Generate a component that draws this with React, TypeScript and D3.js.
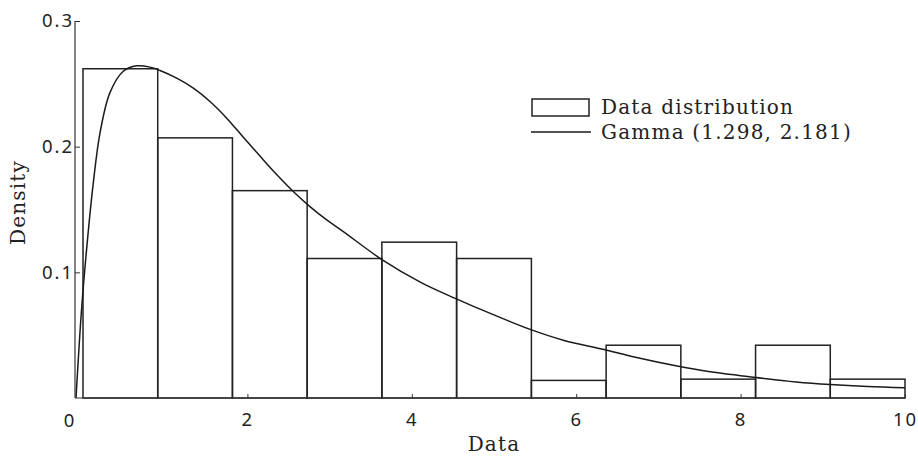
import { useEffect, useRef } from 'react'
import * as d3 from 'd3'

// histogram bins (left edge, right edge) and density heights
const binEdges = [0, 0.909, 1.818, 2.727, 3.636, 4.545, 5.455, 6.364, 7.273, 8.182, 9.091, 10]
const binDensity = [0.262, 0.207, 0.165, 0.111, 0.124, 0.111, 0.014, 0.042, 0.015, 0.042, 0.015]

// fitted gamma curve
const curveX = [
  -0.085, -0.018, 0.049, 0.125, 0.207, 0.328, 0.49, 0.653, 0.815, 0.937, 1.14, 1.342, 1.545,
  1.748, 1.95, 2.153, 2.356, 2.558, 2.761, 2.965, 3.167, 3.646, 4.114, 4.528, 4.984, 5.44,
  5.853, 6.339, 6.721, 7.243, 7.591, 8.156, 8.676, 9.09, 9.546, 10,
]
const curveY = [
  0, 0.07, 0.122, 0.171, 0.211, 0.243, 0.26, 0.2643, 0.2633, 0.2606, 0.2545, 0.2466, 0.2359,
  0.2227, 0.2075, 0.1925, 0.1778, 0.1643, 0.1523, 0.1417, 0.1324, 0.1097, 0.0918, 0.0793,
  0.0665, 0.0546, 0.0458, 0.0386, 0.0325, 0.0253, 0.0213, 0.0166, 0.0128, 0.0107, 0.0091,
  0.0081,
]

const xTicks = [2, 4, 6, 8, 10]
const yTicks = [0.1, 0.2, 0.3]
const legendLabels = ['Data distribution', 'Gamma (1.298, 2.181)']

const SERIF = '"DejaVu Serif", serif'
const SANS = '"Noto Sans", sans-serif'

function GammaChart() {
  const svgRef = useRef<SVGSVGElement | null>(null)

  useEffect(() => {
    if (!svgRef.current) return
    const root = d3.select(svgRef.current)
    root.selectAll('*').remove()

    const width = 918
    const height = 456
    const axisX = 75 // y axis sits a little left of x = 0
    const x = d3.scaleLinear().domain([0, 10]).range([83, 905])
    const y = d3.scaleLinear().domain([0, 0.3]).range([398, 21])

    root.attr('width', width).attr('height', height)
    const svg = root.append('g')

    const serifText = (sel: d3.Selection<SVGTextElement, unknown, null, undefined>) =>
      sel
        .style('font-family', SERIF)
        .style('font-size', '20px')
        .style('letter-spacing', '1.2px')
        .attr('fill', '#222')

    // bars
    svg
      .selectAll('.bin')
      .data(binDensity)
      .enter()
      .append('rect')
      .attr('class', 'bin')
      .attr('x', (_d, i) => x(binEdges[i]))
      .attr('y', (d) => y(d))
      .attr('width', (_d, i) => x(binEdges[i + 1]) - x(binEdges[i]))
      .attr('height', (d) => y(0) - y(d))
      .attr('fill', 'none')
      .attr('stroke', '#222')
      .attr('stroke-width', 1.5)

    // gamma curve
    const pts: [number, number][] = curveX.map((v, i) => [v, curveY[i]])
    const line = d3
      .line<[number, number]>()
      .x((d) => Math.max(axisX, x(d[0])))
      .y((d) => y(d[1]))
      .curve(d3.curveCatmullRom.alpha(0.5))
    svg
      .append('path')
      .datum(pts)
      .attr('d', line)
      .attr('fill', 'none')
      .attr('stroke', '#1a1a1a')
      .attr('stroke-width', 1.5)

    // axes
    const xAxis = svg
      .append('g')
      .attr('transform', `translate(0,${y(0)})`)
      .call(d3.axisBottom(x).tickValues(xTicks).tickSizeInner(-4).tickSizeOuter(0).tickPadding(15))
    xAxis.select('.domain').remove()
    xAxis.selectAll('line').attr('stroke', '#333')
    xAxis
      .selectAll('text')
      .style('font-family', SANS)
      .style('font-size', '18.5px')
      .style('letter-spacing', '2px')
      .attr('fill', '#222')

    svg
      .append('line')
      .attr('x1', axisX)
      .attr('x2', x(10))
      .attr('y1', y(0))
      .attr('y2', y(0))
      .attr('stroke', '#333')
      .attr('stroke-width', 1.2)

    svg
      .append('text')
      .attr('x', axisX - 6)
      .attr('y', y(0) + 28.5)
      .attr('text-anchor', 'middle')
      .style('font-family', SANS)
      .style('font-size', '18.5px')
      .attr('fill', '#222')
      .text('0')

    const yAxis = svg
      .append('g')
      .attr('transform', `translate(${axisX},0)`)
      .call(
        d3
          .axisLeft(y)
          .tickValues(yTicks)
          .tickFormat(d3.format('.1f'))
          .tickSizeInner(-5)
          .tickSizeOuter(0)
          .tickPadding(1)
      )
    yAxis.select('.domain').remove()
    yAxis.selectAll('line').attr('stroke', '#333')
    yAxis
      .selectAll('text')
      .style('font-family', SANS)
      .style('font-size', '18.5px')
      .style('letter-spacing', '2px')
      .attr('fill', '#222')

    svg
      .append('line')
      .attr('x1', axisX)
      .attr('x2', axisX)
      .attr('y1', y(0.3))
      .attr('y2', y(0))
      .attr('stroke', '#333')
      .attr('stroke-width', 1.2)

    // axis titles
    serifText(
      svg
        .append('text')
        .attr('x', x(5))
        .attr('y', 451)
        .attr('text-anchor', 'middle')
        .text('Data')
    )

    serifText(
      svg
        .append('text')
        .attr('transform', `translate(25,${y(0.1556)}) rotate(-90)`)
        .attr('text-anchor', 'middle')
        .text('Density')
    )

    // legend
    const legend = svg.append('g').attr('transform', 'translate(532,99)')
    legend
      .append('rect')
      .attr('width', 57)
      .attr('height', 17)
      .attr('fill', 'none')
      .attr('stroke', '#222')
      .attr('stroke-width', 1.5)
    legend
      .append('line')
      .attr('x1', -1)
      .attr('x2', 59)
      .attr('y1', 33)
      .attr('y2', 33)
      .attr('stroke', '#1a1a1a')
      .attr('stroke-width', 1.5)
    legendLabels.forEach((label, i) => {
      serifText(
        legend
          .append('text')
          .attr('x', 69)
          .attr('y', 15 + i * 25)
          .text(label)
      )
    })
  }, [])

  return <svg ref={svgRef}></svg>
}

export default function App() {
  return (
    <div style={{ position: 'absolute', left: 0, top: 0, background: '#fff' }}>
      <GammaChart />
    </div>
  )
}
